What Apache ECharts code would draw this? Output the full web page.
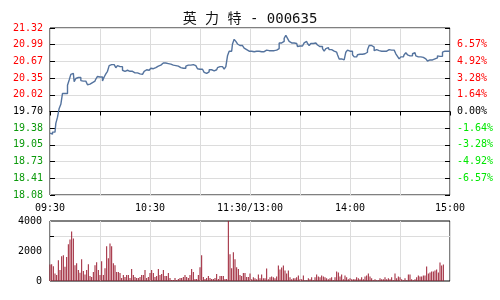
<!DOCTYPE html>
<html>
<head>
<meta charset="utf-8">
<script src="https://cdn.jsdelivr.net/npm/echarts@6/dist/echarts.min.js"></script>
<style>html,body{margin:0;padding:0;background:#fff;}#c{width:500px;height:300px;}</style>
</head>
<body>
<div id="c"></div>
<script>
const titleText = '英 力 特 - 000635';
const prevClose = 19.70;
const priceStep = 0.324;
const leftTicks = ['18.08','18.41','18.73','19.05','19.38','19.70','20.02','20.35','20.67','20.99','21.32'];
const rightTicks = ['','-6.57%','-4.92%','-3.28%','-1.64%','0.00%','1.64%','3.28%','4.92%','6.57%',''];
const timeLabels = {0:'09:30',60:'10:30',120:'11:30/13:00',180:'14:00',240:'15:00'};
const volTicks = [0, 2000, 4000];

const prices = [
19.28,19.26,19.30,19.30,19.47,19.59,19.76,19.84,20.05,20.05,
20.05,20.21,20.31,20.42,20.44,20.28,20.34,20.36,20.36,20.30,
20.29,20.29,20.27,20.22,20.23,20.26,20.26,20.29,20.33,20.38,
20.37,20.37,20.29,20.37,20.43,20.48,20.59,20.61,20.61,20.60,
20.55,20.59,20.57,20.57,20.50,20.48,20.50,20.50,20.48,20.48,
20.45,20.45,20.45,20.43,20.43,20.42,20.44,20.48,20.51,20.50,
20.50,20.54,20.53,20.55,20.58,20.58,20.60,20.63,20.64,20.64,
20.64,20.63,20.62,20.60,20.60,20.59,20.58,20.58,20.55,20.54,
20.54,20.54,20.58,20.60,20.60,20.60,20.61,20.59,20.59,20.53,
20.52,20.52,20.49,20.46,20.44,20.47,20.51,20.51,20.49,20.50,
20.51,20.55,20.57,20.57,20.59,20.52,20.57,20.78,20.87,20.87,
21.01,21.10,21.06,21.01,20.98,20.98,20.96,20.93,20.90,20.87,
20.87,20.87,20.86,20.87,20.87,20.87,20.86,20.86,20.86,20.86,
20.89,20.88,20.88,20.88,20.88,20.89,20.89,20.92,21.03,21.03,
21.06,21.12,21.18,21.12,21.06,21.03,21.03,21.06,21.02,20.96,
20.97,20.97,20.99,21.03,21.06,21.02,20.98,21.02,21.02,21.03,
21.02,20.99,20.96,20.96,20.92,20.87,20.92,20.94,20.90,20.90,
20.87,20.88,20.85,20.80,20.72,20.72,20.70,20.72,20.85,20.89,
20.87,20.87,20.80,20.76,20.76,20.80,20.81,20.81,20.81,20.82,
20.85,20.90,20.98,20.98,20.95,20.88,20.90,20.88,20.87,20.87,
20.87,20.87,20.87,20.90,20.88,20.89,20.89,20.88,20.82,20.77,
20.72,20.76,20.76,20.80,20.84,20.80,20.78,20.78,20.82,20.84,
20.78,20.76,20.76,20.76,20.75,20.72,20.71,20.68,20.70,20.70,
20.71,20.72,20.74,20.78,20.77,20.77,20.85,20.87,20.87,20.87,20.87
];

const volumes = [
1100,1122,990,506,396,1386,726,1650,1716,946,
1606,2442,2772,3300,2838,1056,1188,726,550,1452,
660,440,726,1122,330,264,594,1056,1254,726,
396,1320,396,858,2310,1518,2508,2310,1188,1056,
594,594,528,198,396,264,396,396,198,792,
396,264,198,198,264,396,396,726,198,264,
528,726,528,264,330,792,396,462,726,330,
330,528,198,66,66,198,66,132,198,198,
264,396,264,198,396,792,594,132,132,396,
924,1716,264,132,198,330,198,132,132,198,
462,132,330,330,330,132,132,4000,1782,858,
1914,1452,924,792,396,330,528,528,264,264,
506,110,242,176,110,440,176,440,176,176,
836,110,242,308,242,176,308,1034,770,902,
1034,704,506,704,242,110,176,176,242,374,
110,110,374,44,44,176,110,242,44,242,
440,308,242,374,308,242,176,110,176,242,
44,242,638,572,308,440,110,374,242,110,
176,110,110,110,242,176,110,242,110,308,
374,506,308,176,44,110,44,44,176,110,
110,242,110,176,110,242,44,506,176,308,
242,110,44,176,44,440,440,110,44,110,
242,374,308,308,374,374,968,506,572,638,
638,704,770,572,1232,1034,1100,0,0,0,0
];

const mono = "'DejaVu Sans Mono', monospace";
const gridColor = '#dcdcdc';
const lineData = prices.map((p, i) => [i, (p - prevClose) / priceStep]);
const barData = volumes.map((v, i) => [i, v]);

const chart = echarts.init(document.getElementById('c'), null, {renderer: 'canvas'});
chart.setOption({
  animation: false,
  backgroundColor: '#fff',
  title: {
    text: titleText, left: 'center', top: 7,
    textStyle: {fontSize: 14, fontWeight: 'normal', color: '#111', fontFamily: "'DejaVu Sans Mono', 'Noto Sans CJK SC', monospace"}
  },
  grid: [
    {left: 50, top: 28, width: 400, height: 167, show: true, borderColor: '#000', borderWidth: 1, backgroundColor: 'transparent'},
    {left: 50, top: 221, width: 400, height: 60, show: true, borderColor: '#000', borderWidth: 1, backgroundColor: 'transparent'}
  ],
  xAxis: [
    {gridIndex: 0, type: 'value', min: 0, max: 240, interval: 30, position: 'bottom',
     axisLine: {show: false, onZero: false}, axisTick: {show: false},
     splitLine: {show: true, lineStyle: {color: gridColor, width: 1}},
     axisLabel: {margin: 8, fontSize: 10, fontFamily: mono, color: '#000', showMinLabel: true, showMaxLabel: true,
       formatter: v => timeLabels[v] || ''}},
    {gridIndex: 0, type: 'value', min: 0, max: 240, interval: 30,
     axisLine: {show: true, onZero: true, lineStyle: {color: '#000', width: 1}},
     axisTick: {show: true, inside: true, length: 4, lineStyle: {color: '#000'}},
     axisLabel: {show: false}, splitLine: {show: false}},
    {gridIndex: 1, type: 'value', min: 0, max: 240, interval: 30,
     axisLine: {show: false, onZero: false}, axisTick: {show: false}, axisLabel: {show: false},
     splitLine: {show: true, lineStyle: {color: gridColor, width: 1}}}
  ],
  yAxis: [
    {gridIndex: 0, type: 'value', min: -5, max: 5, interval: 1, position: 'left',
     axisLine: {show: false, onZero: false},
     axisTick: {show: true, inside: true, length: 5, lineStyle: {color: '#000'}},
     splitLine: {show: true, lineStyle: {color: gridColor, width: 1}},
     axisLabel: {margin: 7, fontSize: 10, fontFamily: mono, showMinLabel: true, showMaxLabel: true,
       formatter: v => leftTicks[Math.round(v) + 5],
       color: v => v > 0.01 ? '#ff0000' : (v < -0.01 ? '#0a990a' : '#000000')}},
    {gridIndex: 0, type: 'value', min: -5, max: 5, interval: 1, position: 'right',
     axisLine: {show: false, onZero: false},
     axisTick: {show: true, inside: true, length: 5, lineStyle: {color: '#000'}},
     splitLine: {show: false},
     axisLabel: {margin: 7, fontSize: 10, fontFamily: mono, showMinLabel: true, showMaxLabel: true,
       formatter: v => rightTicks[Math.round(v) + 5],
       color: v => v > 0.01 ? '#ff0000' : (v < -0.01 ? '#00e600' : '#000000')}},
    {gridIndex: 1, type: 'value', min: 0, max: 4000, interval: 2000, position: 'left',
     axisLine: {show: false, onZero: false},
     axisTick: {show: true, inside: true, length: 4, lineStyle: {color: '#000'}, customValues: [3000]},
     splitLine: {show: true, lineStyle: {color: gridColor, width: 1}},
     axisLabel: {margin: 8, fontSize: 10, fontFamily: mono, color: '#000', showMinLabel: true, showMaxLabel: true,
       customValues: volTicks, formatter: v => String(v)}}
  ],
  series: [
    {type: 'line', xAxisIndex: 0, yAxisIndex: 0, data: lineData, step: 'middle', showSymbol: false,
     lineStyle: {color: '#54739e', width: 1.4}, silent: true},
    {type: 'bar', xAxisIndex: 2, yAxisIndex: 2, data: barData, barWidth: 1,
     itemStyle: {color: '#9b1c30'}, silent: true}
  ]
});
</script>
</body>
</html>
